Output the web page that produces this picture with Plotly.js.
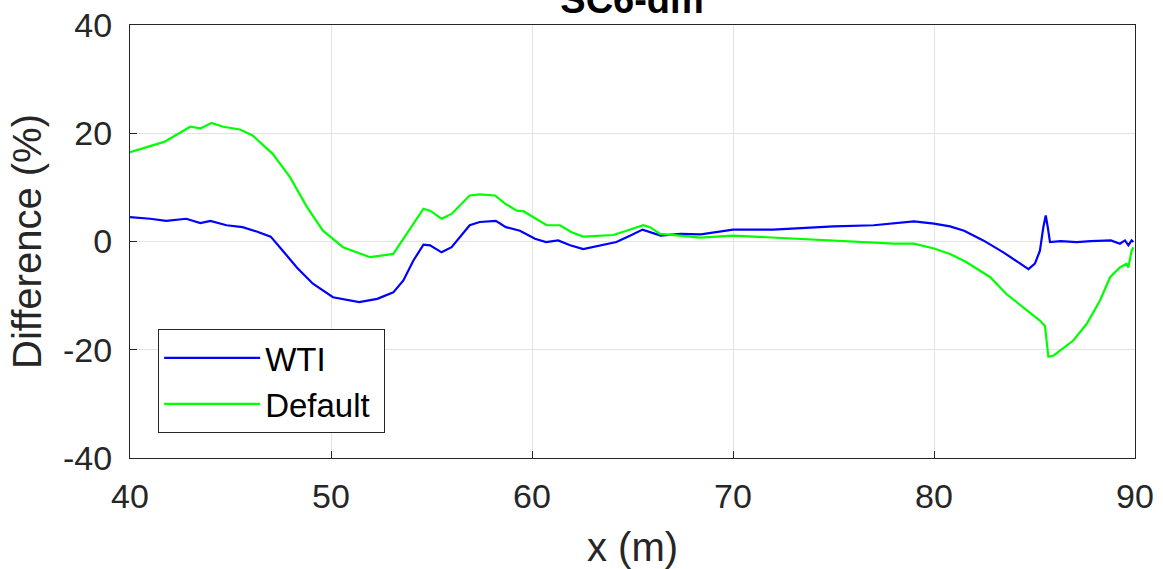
<!DOCTYPE html>
<html>
<head>
<meta charset="utf-8">
<script src="https://cdn.plot.ly/plotly-3.0.1.min.js"></script>
<style>html,body{margin:0;padding:0;background:#fff;}#chart{width:1163px;height:569px;}</style>
</head>
<body>
<div id="chart"></div>
<script>
const wtiX = [40, 41.0, 41.8, 42.8, 43.5, 44.0, 44.8, 45.6, 46.3, 47.0, 47.6, 48.3, 49.1, 50.1, 51.4, 52.3, 53.1, 53.6, 54.1, 54.6, 54.93, 55.5, 56.0, 56.9, 57.4, 58.2, 58.7, 59.4, 60.15, 60.7, 61.3, 61.9, 62.55, 63.4, 64.2, 64.9, 65.5, 66.4, 67.4, 68.4, 70, 72, 75, 77, 79, 80, 80.8, 81.5, 82.45, 83.45, 84.3, 84.7, 85.02, 85.27, 85.44, 85.56, 85.66, 85.77, 86.3, 87.1, 87.8, 88.8, 89.25, 89.5, 89.67, 89.83, 89.92];
const wtiY = [4.5, 4.2, 3.8, 4.2, 3.4, 3.8, 3.0, 2.65, 1.85, 0.9, -1.7, -4.8, -7.8, -10.3, -11.2, -10.6, -9.4, -7.2, -3.5, -0.6, -0.7, -2.0, -1.05, 3.0, 3.6, 3.8, 2.65, 2.0, 0.5, -0.1, 0.2, -0.7, -1.4, -0.7, -0.1, 1.1, 2.2, 1.1, 1.4, 1.3, 2.2, 2.2, 2.8, 3.0, 3.7, 3.3, 2.8, 2.0, 0.2, -2.0, -4.1, -5.1, -4.1, -1.7, 2.65, 4.8, 2.65, -0.1, 0.06, -0.1, 0.06, 0.2, -0.4, 0.2, -0.7, 0.2, -0.1];
const defX = [40, 41.7, 43.0, 43.5, 44.06, 44.64, 45.47, 46.1, 47.1, 47.96, 48.8, 49.6, 50.6, 51.94, 53.1, 53.77, 54.1, 54.6, 54.93, 55.5, 56.0, 56.9, 57.4, 58.16, 58.66, 59.24, 59.57, 60.06, 60.73, 61.39, 61.97, 62.55, 64.04, 64.7, 65.54, 65.87, 66.37, 67.36, 68.36, 70, 72, 75, 78, 79, 80, 80.8, 81.6, 82.8, 83.6, 84.45, 85.27, 85.52, 85.6, 85.69, 85.94, 86.44, 86.93, 87.6, 88.26, 88.76, 89.25, 89.58, 89.67, 89.83, 89.92];
const defY = [16.5, 18.4, 21.2, 20.9, 21.9, 21.2, 20.7, 19.6, 16.2, 11.9, 6.4, 2.0, -1.05, -2.9, -2.3, 1.4, 3.3, 6.05, 5.7, 4.2, 5.1, 8.5, 8.7, 8.5, 7.0, 5.7, 5.6, 4.5, 3.0, 3.0, 1.7, 0.9, 1.2, 2.0, 3.0, 2.65, 1.4, 1.1, 0.7, 1.1, 0.7, 0.2, -0.4, -0.4, -1.3, -2.3, -3.8, -6.6, -9.7, -12.2, -14.6, -15.6, -18.3, -21.3, -21.1, -19.6, -18.3, -15.2, -10.9, -6.6, -4.8, -4.1, -4.8, -1.7, -1.05];
const xTicks = [40, 50, 60, 70, 80, 90];
const yTicks = [-40, -20, 0, 20, 40];

const font = 'Liberation Sans, Arial, Helvetica, sans-serif';
const axisCommon = {
  showline: true, mirror: true, linecolor: '#262626', linewidth: 1,
  ticks: 'inside', ticklen: 7, tickcolor: '#262626',
  showgrid: true, gridcolor: '#e3e3e3', gridwidth: 1,
  zeroline: false, automargin: false,
  tickfont: {family: font, size: 34, color: '#262626'}
};
const data = [
  {x: wtiX, y: wtiY, type: 'scatter', mode: 'lines', name: 'WTI', line: {color: '#0000ff', width: 2.2}},
  {x: defX, y: defY, type: 'scatter', mode: 'lines', name: 'Default\u00a0', line: {color: '#00ff00', width: 2.2}}
];
const layout = {
  width: 1163, height: 569,
  margin: {l: 130, r: 28, t: 25, b: 111},
  paper_bgcolor: '#fff', plot_bgcolor: '#fff',
  title: {text: '<b>SC6-dm</b>', font: {family: font, size: 38, color: '#000'}, x: 0.5435, xanchor: 'center', y: 1.0, yanchor: 'middle', yref: 'container'},
  xaxis: Object.assign({}, axisCommon, {range: [40, 90], tickvals: xTicks, ticktext: xTicks.map(String), ticklabelstandoff: 8,
    title: {text: 'x (m)', font: {family: font, size: 40, color: '#262626'}, standoff: 19}}),
  yaxis: Object.assign({}, axisCommon, {range: [-40, 40], tickvals: yTicks, ticktext: yTicks.map(String), ticklabelstandoff: 10,
    title: {text: 'Difference (%)', font: {family: font, size: 40, color: '#262626'}, standoff: 9}}),
  showlegend: true,
  legend: {x: 0.028, y: 0.298, xanchor: 'left', yanchor: 'top', bgcolor: '#fff', bordercolor: '#262626', borderwidth: 1,
    font: {family: font, size: 33, color: '#000'}, tracegroupgap: 0, itemwidth: 96}
};
Plotly.newPlot('chart', data, layout, {displayModeBar: false, staticPlot: true});
</script>
</body>
</html>
